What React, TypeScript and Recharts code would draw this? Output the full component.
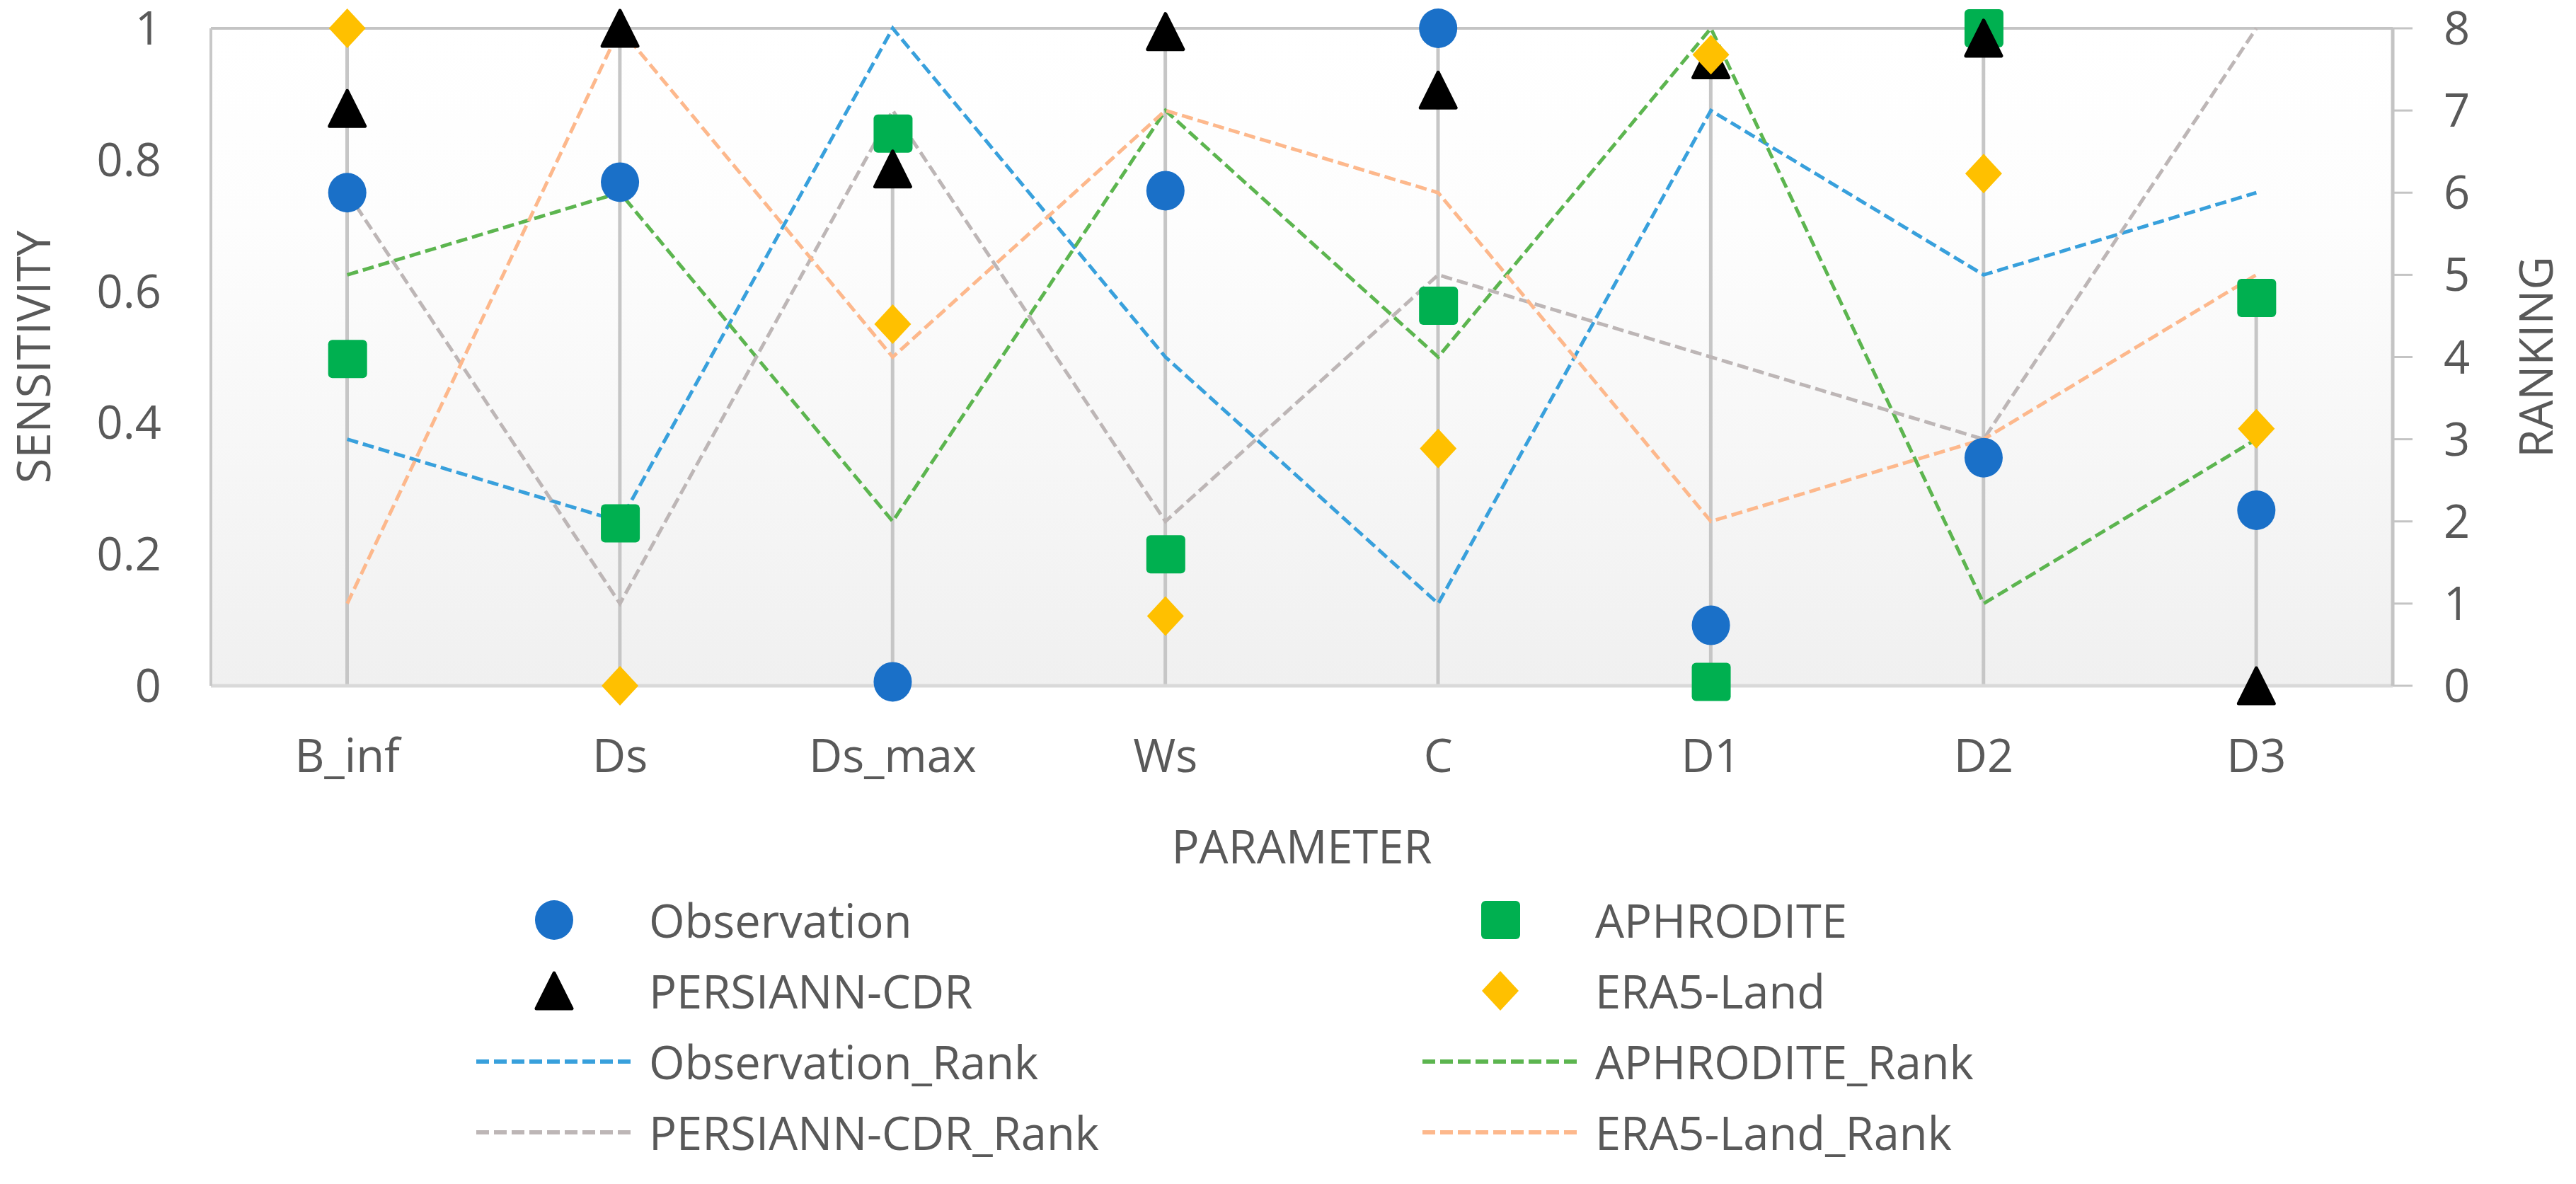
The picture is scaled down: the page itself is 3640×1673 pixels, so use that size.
import React from "react";
import {
  ComposedChart,
  Line,
  Bar,
  XAxis,
  YAxis,
  CartesianGrid,
  Legend,
  ReferenceLine,
} from "recharts";

const PARAMETERS = ["B_inf", "Ds", "Ds_max", "Ws", "C", "D1", "D2", "D3"];

// sensitivity (left axis)
const OBSERVATION = [0.75, 0.766, 0.006, 0.753, 1.0, 0.092, 0.347, 0.267];
const APHRODITE = [0.497, 0.247, 0.84, 0.2, 0.578, 0.006, 1.0, 0.59];
const PERSIANN_CDR = [0.878, 1.0, 0.786, 0.995, 0.906, 0.952, 0.985, 0.0];
const ERA5_LAND = [1.0, 0.0, 0.55, 0.106, 0.361, 0.96, 0.779, 0.391];

// ranking (right axis)
const OBSERVATION_RANK = [3, 2, 8, 4, 1, 7, 5, 6];
const APHRODITE_RANK = [5, 6, 2, 7, 4, 8, 1, 3];
const PERSIANN_CDR_RANK = [6, 1, 7, 2, 5, 4, 3, 8];
const ERA5_LAND_RANK = [1, 8, 4, 7, 6, 2, 3, 5];

const SENSITIVITY_TICKS = [0, 0.2, 0.4, 0.6, 0.8, 1];
const RANK_TICKS = [0, 1, 2, 3, 4, 5, 6, 7, 8];

const FONT = "'Open Sans', 'Noto Sans', sans-serif";
const TEXT = "#595959";

const COLORS = {
  observation: "#1a70c8",
  aphrodite: "#00b050",
  persiann: "#000000",
  era5: "#ffc000",
  observationRank: "#38a0dc",
  aphroditeRank: "#5cb54f",
  persiannRank: "#bdb6b6",
  era5Rank: "#fdb88c",
};

const data = PARAMETERS.map((parameter, i) => ({
  parameter,
  observation: OBSERVATION[i],
  aphrodite: APHRODITE[i],
  persiann: PERSIANN_CDR[i],
  era5: ERA5_LAND[i],
  observationRank: OBSERVATION_RANK[i],
  aphroditeRank: APHRODITE_RANK[i],
  persiannRank: PERSIANN_CDR_RANK[i],
  era5Rank: ERA5_LAND_RANK[i],
  // drop line goes from the axis up to the highest marker
  drop: Math.max(OBSERVATION[i], APHRODITE[i], PERSIANN_CDR[i], ERA5_LAND[i]),
}));

type Kind = "circle" | "square" | "triangle" | "diamond" | "line";

function shape(kind: Kind, cx: number, cy: number, color: string, key?: any) {
  if (kind === "circle")
    return <ellipse key={key} cx={cx} cy={cy} rx={27} ry={28} fill={color} />;
  if (kind === "square")
    return (
      <rect key={key} x={cx - 27} y={cy - 27} width={55} height={54} rx={6} fill={color} />
    );
  if (kind === "triangle")
    return (
      <path
        key={key}
        d={`M${cx},${cy - 25} L${cx + 25},${cy + 25} L${cx - 25},${cy + 25} Z`}
        fill={color}
        stroke={color}
        strokeWidth={5}
        strokeLinejoin="round"
      />
    );
  return (
    <path
      key={key}
      d={`M${cx},${cy - 28} L${cx + 26},${cy} L${cx},${cy + 28} L${cx - 26},${cy} Z`}
      fill={color}
    />
  );
}

const dot = (kind: Kind, color: string) => (props: any) => {
  const { cx, cy, index } = props;
  if (cx == null || cy == null) return <g key={`e-${index}`} />;
  return shape(kind, cx, cy, color, `${kind}-${index}`);
};

const LEGEND_ITEMS: { name: string; kind: Kind; color: string }[] = [
  { name: "Observation", kind: "circle", color: COLORS.observation },
  { name: "APHRODITE", kind: "square", color: COLORS.aphrodite },
  { name: "PERSIANN-CDR", kind: "triangle", color: COLORS.persiann },
  { name: "ERA5-Land", kind: "diamond", color: COLORS.era5 },
  { name: "Observation_Rank", kind: "line", color: COLORS.observationRank },
  { name: "APHRODITE_Rank", kind: "line", color: COLORS.aphroditeRank },
  { name: "PERSIANN-CDR_Rank", kind: "line", color: COLORS.persiannRank },
  { name: "ERA5-Land_Rank", kind: "line", color: COLORS.era5Rank },
];

const LEGEND_COLS = [783, 2120];

function LegendBlock() {
  return (
    <div style={{ position: "relative", height: 400, width: 3640 }}>
      {LEGEND_ITEMS.map((item, i) => (
        <div
          key={item.name}
          style={{
            position: "absolute",
            left: LEGEND_COLS[i % 2] - 110,
            top: Math.floor(i / 2) * 100,
            height: 100,
            display: "flex",
            alignItems: "center",
          }}
        >
          <svg width={220} height={100}>
            {item.kind === "line" ? (
              <line
                x1={0}
                y1={50}
                x2={220}
                y2={50}
                stroke={item.color}
                strokeWidth={6}
                strokeDasharray="18 7"
              />
            ) : (
              shape(item.kind, 110, 50, item.color)
            )}
          </svg>
          <span
            style={{
              marginLeft: 24,
              fontFamily: FONT,
              fontSize: 65,
              color: TEXT,
              lineHeight: "100px",
              whiteSpace: "nowrap",
            }}
          >
            {item.name}
          </span>
        </div>
      ))}
    </div>
  );
}

const verticalTitle = (text: string, x: number) => (props: any) => {
  const vb = props.viewBox || {};
  const y = (vb.y ?? 40) + (vb.height ?? 929) / 2;
  return (
    <text
      x={x}
      y={y}
      transform={`rotate(-90 ${x} ${y})`}
      textAnchor="middle"
      dominantBaseline="central"
      fill={TEXT}
      fontSize={65}
      fontFamily={FONT}
    >
      {text}
    </text>
  );
};

export default function App() {
  const tick = { fontSize: 65, fill: TEXT, fontFamily: FONT };
  return (
    <div style={{ position: "absolute", left: 0, top: 0, background: "#fff" }}>
      <ComposedChart
        width={3640}
        height={1673}
        data={data}
        margin={{ top: 40, right: 0, bottom: 23, left: 0 }}
        style={{ fontFamily: FONT }}
      >
        <defs>
          <linearGradient id="plotBg" x1="0" y1="0" x2="0" y2="1">
            <stop offset="0%" stopColor="#ffffff" />
            <stop offset="30%" stopColor="#fdfdfd" />
            <stop offset="100%" stopColor="#f0f0f0" />
          </linearGradient>
        </defs>
        <CartesianGrid
          yAxisId="left"
          horizontal={false}
          vertical={false}
          fill="url(#plotBg)"
          stroke="none"
        />
        <XAxis
          dataKey="parameter"
          height={281}
          tick={tick}
          tickLine={false}
          tickSize={0}
          tickMargin={76}
          axisLine={{ stroke: "#d9d9d9", strokeWidth: 5 }}
          label={{
            value: "PARAMETER",
            position: "insideBottom",
            offset: 30,
            fill: TEXT,
            fontSize: 65,
            fontFamily: FONT,
          }}
        />
        <YAxis
          yAxisId="left"
          width={298}
          domain={[0, 1]}
          ticks={SENSITIVITY_TICKS}
          tick={tick}
          tickLine={false}
          tickSize={0}
          tickMargin={70}
          axisLine={{ stroke: "#c8c8c8", strokeWidth: 4 }}
          label={verticalTitle("SENSITIVITY", 46)}
        />
        <YAxis
          yAxisId="right"
          orientation="right"
          width={259}
          domain={[0, 8]}
          ticks={RANK_TICKS}
          tick={tick}
          tickSize={28}
          tickMargin={44}
          tickLine={{ stroke: "#c4c4c4", strokeWidth: 3 }}
          axisLine={{ stroke: "#c4c4c4", strokeWidth: 5 }}
          label={verticalTitle("RANKING", 3582)}
        />
        <ReferenceLine yAxisId="left" y={1} stroke="#c4c4c4" strokeWidth={4} />
        <Legend
          verticalAlign="bottom"
          content={() => <LegendBlock />}
        />

        <Bar
          yAxisId="left"
          dataKey="drop"
          barSize={5}
          fill="#c6c6c6"
          legendType="none"
          isAnimationActive={false}
        />

        <Line
          yAxisId="left"
          dataKey="observation"
          name="Observation"
          stroke="none"
          dot={dot("circle", COLORS.observation)}
          activeDot={false}
          isAnimationActive={false}
        />
        <Line
          yAxisId="left"
          dataKey="aphrodite"
          name="APHRODITE"
          stroke="none"
          dot={dot("square", COLORS.aphrodite)}
          activeDot={false}
          isAnimationActive={false}
        />
        <Line
          yAxisId="left"
          dataKey="persiann"
          name="PERSIANN-CDR"
          stroke="none"
          dot={dot("triangle", COLORS.persiann)}
          activeDot={false}
          isAnimationActive={false}
        />
        <Line
          yAxisId="left"
          dataKey="era5"
          name="ERA5-Land"
          stroke="none"
          dot={dot("diamond", COLORS.era5)}
          activeDot={false}
          isAnimationActive={false}
        />

        <Line
          yAxisId="right"
          dataKey="observationRank"
          name="Observation_Rank"
          stroke={COLORS.observationRank}
          strokeWidth={5}
          strokeDasharray="16 7"
          dot={false}
          activeDot={false}
          isAnimationActive={false}
        />
        <Line
          yAxisId="right"
          dataKey="aphroditeRank"
          name="APHRODITE_Rank"
          stroke={COLORS.aphroditeRank}
          strokeWidth={5}
          strokeDasharray="16 7"
          dot={false}
          activeDot={false}
          isAnimationActive={false}
        />
        <Line
          yAxisId="right"
          dataKey="persiannRank"
          name="PERSIANN-CDR_Rank"
          stroke={COLORS.persiannRank}
          strokeWidth={5}
          strokeDasharray="16 7"
          dot={false}
          activeDot={false}
          isAnimationActive={false}
        />
        <Line
          yAxisId="right"
          dataKey="era5Rank"
          name="ERA5-Land_Rank"
          stroke={COLORS.era5Rank}
          strokeWidth={5}
          strokeDasharray="16 7"
          dot={false}
          activeDot={false}
          isAnimationActive={false}
        />
      </ComposedChart>
    </div>
  );
}
